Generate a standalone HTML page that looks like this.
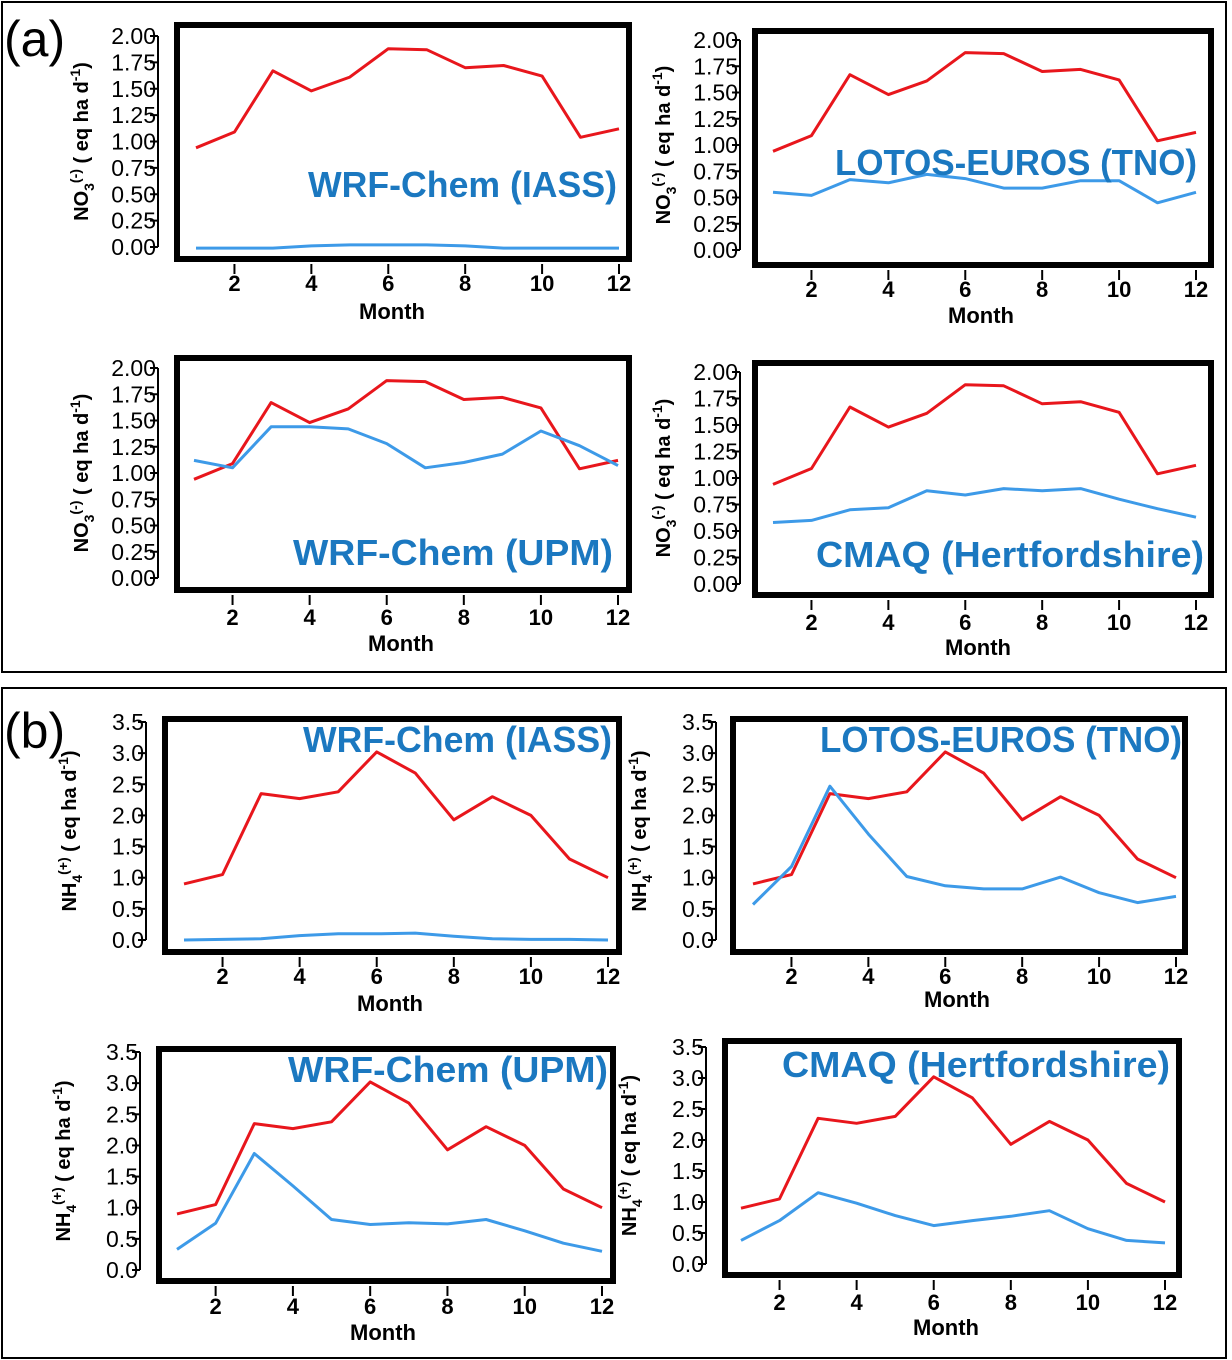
<!DOCTYPE html>
<html><head><meta charset="utf-8"><style>
html,body{margin:0;padding:0;background:#fff;}
svg{display:block;}
</style></head><body>
<svg id="fig" width="1232" height="1360" viewBox="0 0 1232 1360" xmlns="http://www.w3.org/2000/svg" font-family="'Liberation Sans', sans-serif">
<rect x="2" y="2" width="1224" height="670" fill="none" stroke="#000" stroke-width="2"/>
<rect x="2" y="688" width="1224" height="670" fill="none" stroke="#000" stroke-width="2"/>
<text x="4" y="56" font-size="50">(a)</text>
<text x="4" y="748" font-size="50">(b)</text>
</svg>
<script>
var months = [1,2,3,4,5,6,7,8,9,10,11,12];
var xTicks = [2,4,6,8,10,12];
var no3Ticks = ["0.00","0.25","0.50","0.75","1.00","1.25","1.50","1.75","2.00"];
var nh4Ticks = ["0.0","0.5","1.0","1.5","2.0","2.5","3.0","3.5"];
var no3Obs = [0.94,1.09,1.67,1.48,1.61,1.88,1.87,1.70,1.72,1.62,1.04,1.12];
var nh4Obs = [0.90,1.05,2.35,2.27,2.38,3.02,2.68,1.93,2.30,2.00,1.30,1.00];
var no3IASS = [-0.01,-0.01,-0.01,0.01,0.02,0.02,0.02,0.01,-0.01,-0.01,-0.01,-0.01];
var no3TNO = [0.55,0.52,0.67,0.64,0.72,0.68,0.59,0.59,0.66,0.66,0.45,0.55];
var no3UPM = [1.12,1.05,1.44,1.44,1.42,1.28,1.05,1.10,1.18,1.40,1.26,1.07];
var no3CMAQ = [0.58,0.60,0.70,0.72,0.88,0.84,0.90,0.88,0.90,0.80,0.71,0.63];
var nh4IASS = [0.00,0.01,0.02,0.07,0.10,0.10,0.11,0.06,0.02,0.01,0.01,0.00];
var nh4TNO = [0.57,1.18,2.47,1.70,1.02,0.87,0.82,0.82,1.01,0.76,0.60,0.70];
var nh4UPM = [0.33,0.75,1.87,1.35,0.81,0.73,0.76,0.74,0.81,0.63,0.43,0.30];
var nh4CMAQ = [0.38,0.70,1.15,0.98,0.78,0.62,0.70,0.77,0.86,0.57,0.38,0.34];

var NS="http://www.w3.org/2000/svg";
var svg=document.getElementById('fig');
function el(tag,attrs,parent){var e=document.createElementNS(NS,tag);for(var k in attrs)e.setAttribute(k,attrs[k]);(parent||svg).appendChild(e);return e;}

var panels=[
 {id:'a-iass',fx:174,fy:22,fr:632,fb:262,ymaxPx:36,y0Px:247,ax:158,x1:196,x12:619,tl:291,ml:319,mx:392,ymax:2,ticks:no3Ticks,obs:no3Obs,mod:no3IASS,title:'WRF-Chem (IASS)',tx:617,ty:197,tw:309,lab:'no3'},
 {id:'a-tno',fx:752,fy:28,fr:1214,fb:268,ymaxPx:40,y0Px:250,ax:740,x1:773,x12:1196,tl:297,ml:323,mx:981,ymax:2,ticks:no3Ticks,obs:no3Obs,mod:no3TNO,title:'LOTOS-EUROS (TNO)',tx:1197,ty:175,tw:362,lab:'no3'},
 {id:'a-upm',fx:174,fy:355,fr:632,fb:593,ymaxPx:368,y0Px:578,ax:158,x1:194,x12:618,tl:625,ml:651,mx:401,ymax:2,ticks:no3Ticks,obs:no3Obs,mod:no3UPM,title:'WRF-Chem (UPM)',tx:613,ty:565,tw:320,lab:'no3'},
 {id:'a-cmaq',fx:752,fy:360,fr:1214,fb:598,ymaxPx:372,y0Px:584,ax:740,x1:773,x12:1196,tl:630,ml:655,mx:978,ymax:2,ticks:no3Ticks,obs:no3Obs,mod:no3CMAQ,title:'CMAQ (Hertfordshire)',tx:1204,ty:567,tw:388,lab:'no3'},
 {id:'b-iass',fx:162,fy:716,fr:622,fb:955,ymaxPx:722,y0Px:940,ax:146,x1:184,x12:608,tl:984,ml:1011,mx:390,ymax:3.5,ticks:nh4Ticks,obs:nh4Obs,mod:nh4IASS,title:'WRF-Chem (IASS)',tx:612,ty:752,tw:309,lab:'nh4'},
 {id:'b-tno',fx:730,fy:716,fr:1188,fb:955,ymaxPx:722,y0Px:940,ax:716,x1:753,x12:1176,tl:984,ml:1007,mx:957,ymax:3.5,ticks:nh4Ticks,obs:nh4Obs,mod:nh4TNO,title:'LOTOS-EUROS (TNO)',tx:1182,ty:752,tw:362,lab:'nh4'},
 {id:'b-upm',fx:156,fy:1046,fr:616,fb:1284,ymaxPx:1052,y0Px:1270,ax:140,x1:177,x12:602,tl:1314,ml:1340,mx:383,ymax:3.5,ticks:nh4Ticks,obs:nh4Obs,mod:nh4UPM,title:'WRF-Chem (UPM)',tx:608,ty:1082,tw:320,lab:'nh4'},
 {id:'b-cmaq',fx:722,fy:1038,fr:1182,fb:1278,ymaxPx:1047,y0Px:1264,ax:706,x1:741,x12:1165,tl:1310,ml:1335,mx:946,ymax:3.5,ticks:nh4Ticks,obs:nh4Obs,mod:nh4CMAQ,title:'CMAQ (Hertfordshire)',tx:1170,ty:1077,tw:388,lab:'nh4'}
];

panels.forEach(function(p){
  var g=el('g',{});
  
  
  function xs(m){return p.x1+(m-1)*(p.x12-p.x1)/11;}
  function ys(v){return p.y0Px-(v/p.ymax)*(p.y0Px-p.ymaxPx);}
  var fr=el('rect',{x:p.fx+3,y:p.fy+3,width:p.fr-p.fx-6,height:p.fb-p.fy-6,fill:'none',stroke:'#000','stroke-width':6},g);
  
  
  var ya=el('line',{x1:p.ax,y1:ys(0),x2:p.ax,y2:ys(p.ymax),stroke:'#000','stroke-width':2},g);
  
  
  p.ticks.forEach(function(t){
    var v=parseFloat(t),y=ys(v);
    el('line',{x1:p.ax-8,y1:y,x2:p.ax,y2:y,stroke:'#000','stroke-width':2},g);
    var tx=el('text',{x:p.ax-2,y:y+8,'font-size':23,'text-anchor':'end'},g);
    
    
    tx.textContent=t;
  });
  var xb=p.fb+2;
  xTicks.forEach(function(m){
    var x=xs(m);
    el('line',{x1:x,y1:xb,x2:x,y2:xb+10,stroke:'#000','stroke-width':2},g);
    var tx=el('text',{x:x,y:p.tl,'font-size':22,'font-weight':'bold','text-anchor':'middle'},g);
    
    
    tx.textContent=m;
  });
  var mt=el('text',{x:p.mx,y:p.ml,'font-size':22,'font-weight':'bold','text-anchor':'middle'},g);
  
  
  mt.textContent='Month';
  var cy=(ys(0)+ys(p.ymax))/2, cx=p.ax-70;
  var yt=el('text',{x:cx,y:cy,'font-size':20,'font-weight':'bold','text-anchor':'middle',transform:'rotate(-90 '+cx+' '+cy+')'},g);
  
  
  var parts=p.lab==='no3'?[['NO',0,0],['3',6,1],['(-)',-14,1],[' ( eq ha d',8,0],['-1',-8,1],[')',8,0]]:[['NH',0,0],['4',6,1],['(+)',-14,1],[' ( eq ha d',8,0],['-1',-8,1],[')',8,0]];
  parts.forEach(function(pt){
    var ts=el('tspan',{dy:pt[1]},yt);
    if(pt[2])ts.setAttribute('font-size',14);
    ts.textContent=pt[0];
  });
  function series(vals,color,name){
    var d=vals.map(function(v,i){return (i?'L':'M')+xs(months[i]).toFixed(1)+' '+ys(v).toFixed(1);}).join(' ');
    var pth=el('path',{d:d,fill:'none',stroke:color,'stroke-width':3,'stroke-linejoin':'round'},g);
    
    
  }
  series(p.obs,'#e8161c','observed-line');
  series(p.mod,'#3d9ae8','model-line');
  var tt=el('text',{x:p.tx,y:p.ty,'font-size':36,'font-weight':'bold',fill:'#1b78c0','text-anchor':'end',textLength:p.tw,lengthAdjust:'spacingAndGlyphs'},g);
  
  
  tt.textContent=p.title;
});
</script>
</body></html>
